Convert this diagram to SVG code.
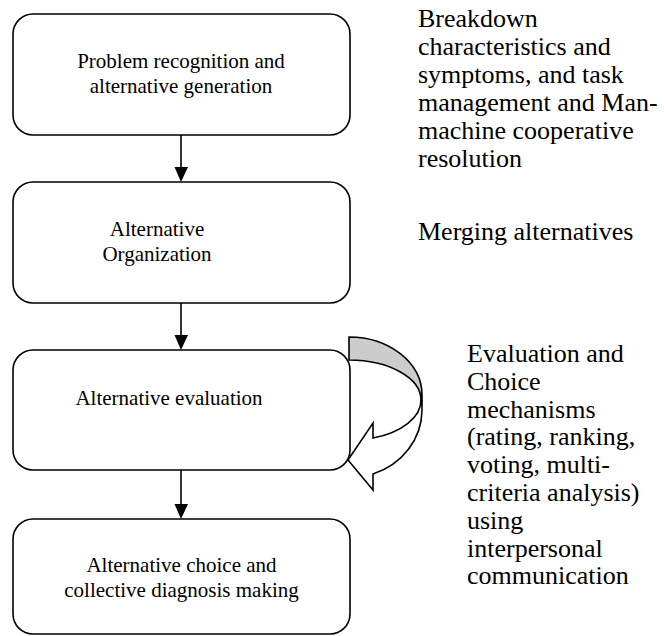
<svg xmlns="http://www.w3.org/2000/svg" width="664" height="636" viewBox="0 0 664 636">
<style>
.box{fill:#fff;stroke:#000;stroke-width:1.6}
.bt{font-family:"Liberation Serif","Times New Roman",serif;font-size:21px;fill:#000;text-anchor:middle}
.rt{font-family:"Liberation Serif","Times New Roman",serif;font-size:26px;fill:#000}
.ln{stroke:#000;stroke-width:1.6;fill:none}
.ah{fill:#000}
.ca{stroke:#000;stroke-width:1.6;stroke-linejoin:miter}
</style>
<rect width="664" height="636" fill="#fff"/>
<g id="node1">
<rect class="box" x="13" y="14" width="337" height="121" rx="20"/>
<text class="bt" x="181" y="68">Problem recognition and</text>
<text class="bt" x="181" y="93">alternative generation</text>
</g>
<g id="node2">
<rect class="box" x="13" y="182" width="337" height="121" rx="20"/>
<text class="bt" x="157" y="236">Alternative</text>
<text class="bt" x="157" y="261">Organization</text>
</g>
<g id="node3">
<rect class="box" x="13" y="350" width="337" height="120" rx="20"/>
<text class="bt" x="169" y="405">Alternative evaluation</text>
</g>
<g id="node4">
<rect class="box" x="13" y="519" width="337" height="115" rx="20"/>
<text class="bt" x="181.5" y="572">Alternative choice and</text>
<text class="bt" x="181.5" y="597">collective diagnosis making</text>
</g>
<g id="connectors">
<line class="ln" x1="181" y1="135" x2="181" y2="168"/>
<polygon class="ah" points="174.5,167 188,167 181,182"/>
<line class="ln" x1="181" y1="303" x2="181" y2="336"/>
<polygon class="ah" points="174.5,335 188,335 181,350"/>
<line class="ln" x1="181" y1="470" x2="181" y2="505"/>
<polygon class="ah" points="174.5,504 188,504 181,519"/>
</g>
<g id="curved-arrow">
<path class="ca" fill="#cccccc" d="M349,337 A73,58 0 0 1 422,395 L422,400 L421,400 A72,40 0 0 0 349,360 Z"/>
<path class="ca" fill="#fff" d="M373,438 L373,423 L348,460 L373,490 L373,474 A73,68 0 0 0 422,410 L422,400 L421,400 A72,40 0 0 1 373,438 Z"/>
</g>
<g id="notes">
<text class="rt" x="418"><tspan x="418" y="27">Breakdown</tspan><tspan x="418" y="55">characteristics and</tspan><tspan x="418" y="83">symptoms, and task</tspan><tspan x="418" y="111">management and Man-</tspan><tspan x="418" y="139">machine cooperative</tspan><tspan x="418" y="167">resolution</tspan></text>
<text class="rt" x="418" y="240">Merging alternatives</text>
<text class="rt" x="467"><tspan x="467" y="362">Evaluation and</tspan><tspan x="467" y="390">Choice</tspan><tspan x="467" y="418">mechanisms</tspan><tspan x="467" y="445">(rating, ranking,</tspan><tspan x="467" y="473">voting, multi-</tspan><tspan x="467" y="501">criteria analysis)</tspan><tspan x="467" y="529">using</tspan><tspan x="467" y="557">interpersonal</tspan><tspan x="467" y="584">communication</tspan></text>
</g>
</svg>
